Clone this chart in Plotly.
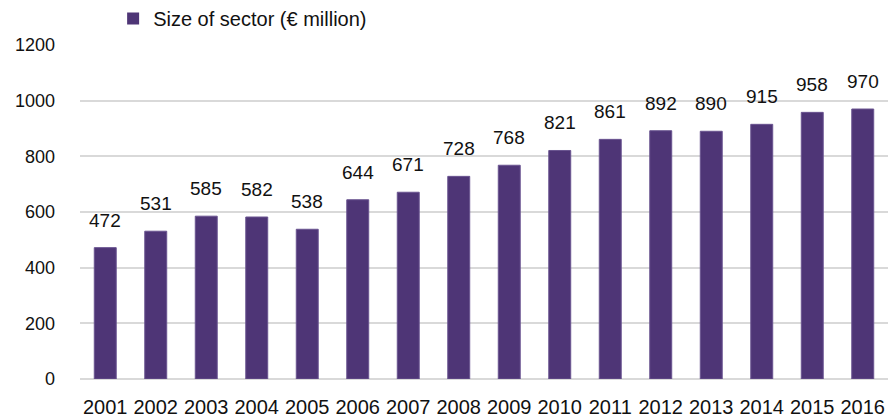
import plotly.graph_objects as go

years = ["2001", "2002", "2003", "2004", "2005", "2006", "2007", "2008",
         "2009", "2010", "2011", "2012", "2013", "2014", "2015", "2016"]
values = [472, 531, 585, 582, 538, 644, 671, 728, 768, 821, 861, 892, 890, 915, 958, 970]
series_name = "Size of sector (€ million)"
y_ticks = [0, 200, 400, 600, 800, 1000, 1200]

BAR = "#4E3576"
FONT = "Liberation Sans, Arial, sans-serif"

fig = go.Figure()
fig.add_trace(go.Bar(
    x=years, y=values, marker=dict(color=BAR, line=dict(color="#6A5490", width=1)),
    showlegend=False, hoverinfo="x+y",
))
fig.add_trace(go.Scatter(
    x=[years[0]], y=[None], mode="markers", name=series_name,
    marker=dict(symbol="square", size=16, color=BAR), showlegend=True,
))

# category axis: annotation x given as category index
annotations = [
    dict(x=i, y=v, xref="x", yref="y", text=str(v), showarrow=False,
         yanchor="bottom", yshift=15,
         font=dict(size=19, color="#111111", family=FONT))
    for i, v in enumerate(values)
]

fig.update_layout(
    width=896, height=418,
    margin=dict(l=80, r=8, t=44.5, b=38.5, autoexpand=False),
    paper_bgcolor="white", plot_bgcolor="white",
    bargap=0.565,
    font=dict(family=FONT, size=18, color="#111111"),
    annotations=annotations,
    legend=dict(orientation="h", x=0.041, xanchor="left", y=1.079, yanchor="middle",
                font=dict(size=20), itemsizing="constant", itemwidth=30,
                bgcolor="rgba(0,0,0,0)"),
    xaxis=dict(type="category", categoryorder="array", categoryarray=years,
               range=[-0.5, len(years) - 0.5], automargin=False,
               showgrid=False, showline=False, ticks="",
               tickfont=dict(size=20), ticklabelstandoff=14, fixedrange=True),
    yaxis=dict(range=[0, 1200], tickvals=y_ticks, showgrid=True, gridcolor="#d9d9d9",
               gridwidth=1.5, zeroline=True, zerolinecolor="#d9d9d9", zerolinewidth=1.5,
               showline=False, ticks="", tickfont=dict(size=18), ticklabelstandoff=24,
               automargin=False, fixedrange=True),
)

fig.write_html("out.html")
